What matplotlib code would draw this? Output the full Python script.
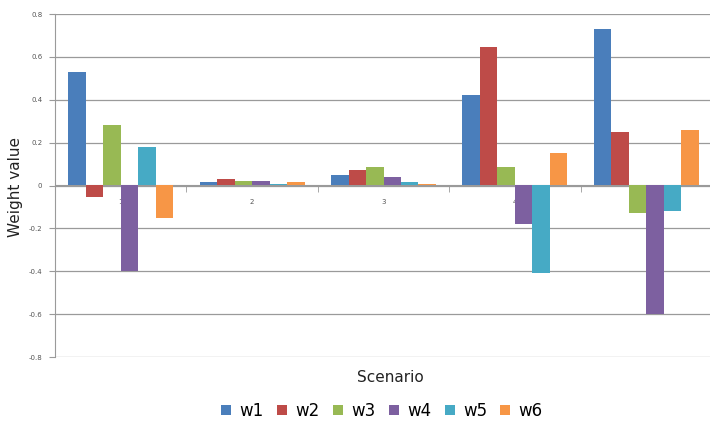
import numpy as np
import matplotlib.pyplot as plt
from matplotlib.ticker import FixedLocator

scenarios = ['1', '2', '3', '4', '5']
series_names = ['w1', 'w2', 'w3', 'w4', 'w5', 'w6']
w1 = [0.53, 0.015, 0.05, 0.42, 0.73]
w2 = [-0.055, 0.03, 0.07, 0.645, 0.25]
w3 = [0.28, 0.02, 0.085, 0.085, -0.13]
w4 = [-0.40, 0.02, 0.04, -0.18, -0.60]
w5 = [0.18, 0.005, 0.015, -0.41, -0.12]
w6 = [-0.15, 0.015, 0.005, 0.15, 0.26]
colors = ['#4A7EBB', '#BE4B48', '#98B954', '#7D60A0', '#46AAC5', '#F79646']

fig = plt.figure(figsize=(7.1, 4.32), dpi=100)
ax = fig.add_axes([55 / 710, 1 - 357 / 432, 657 / 710, 343 / 432])

x = np.arange(len(scenarios))
bar_w = 0.133
gap = 1.0 - 6 * bar_w
for i, (name, vals) in enumerate(zip(series_names, [w1, w2, w3, w4, w5, w6])):
    offs = -0.5 + gap / 2 + bar_w * (i + 0.5)
    ax.bar(x + offs, vals, width=bar_w, color=colors[i], label=name, zorder=3)

ax.set_xlim(-0.5, len(scenarios) - 0.5)
ax.set_ylim(-0.8, 0.8)
ax.set_yticks(np.arange(-0.8, 0.81, 0.2))
ax.set_yticklabels(['-0.8', '-0.6', '-0.4', '-0.2', '0', '0.2', '0.4', '0.6', '0.8'])
ax.yaxis.grid(True, color='#9a9a9a', linewidth=0.9, zorder=0)
ax.tick_params(axis='y', length=4, color='#9a9a9a', labelsize=5, labelcolor='#555555', pad=5)

# category axis sits on the zero line
ax.spines['bottom'].set_position(('data', 0))
ax.spines['bottom'].set_color('#9a9a9a')
ax.spines['left'].set_color('#9a9a9a')
ax.spines['top'].set_visible(False)
ax.spines['right'].set_visible(False)
ax.set_xticks(x)
ax.set_xticklabels(scenarios)
ax.xaxis.set_minor_locator(FixedLocator(np.arange(-0.5, len(scenarios), 1.0)))
ax.tick_params(axis='x', which='major', length=0, labelsize=5, labelcolor='#555555', pad=10)
ax.tick_params(axis='x', which='minor', length=5, direction='out', color='#9a9a9a')

fig.text(16 / 710, 1 - 187 / 432, 'Weight value', rotation=90, ha='center', va='center',
         fontsize=11, color='#222222')
fig.text(390 / 710, 1 - 378 / 432, 'Scenario', ha='center', va='center',
         fontsize=11, color='#222222')

handles, labels = ax.get_legend_handles_labels()
fig.legend(handles, labels, loc='center', bbox_to_anchor=(382 / 710, 1 - 411 / 432),
           ncol=6, frameon=False, fontsize=12, handlelength=0.6, handleheight=0.6,
           handletextpad=0.5, columnspacing=0.8)

fig.savefig('out.png', dpi=100)
